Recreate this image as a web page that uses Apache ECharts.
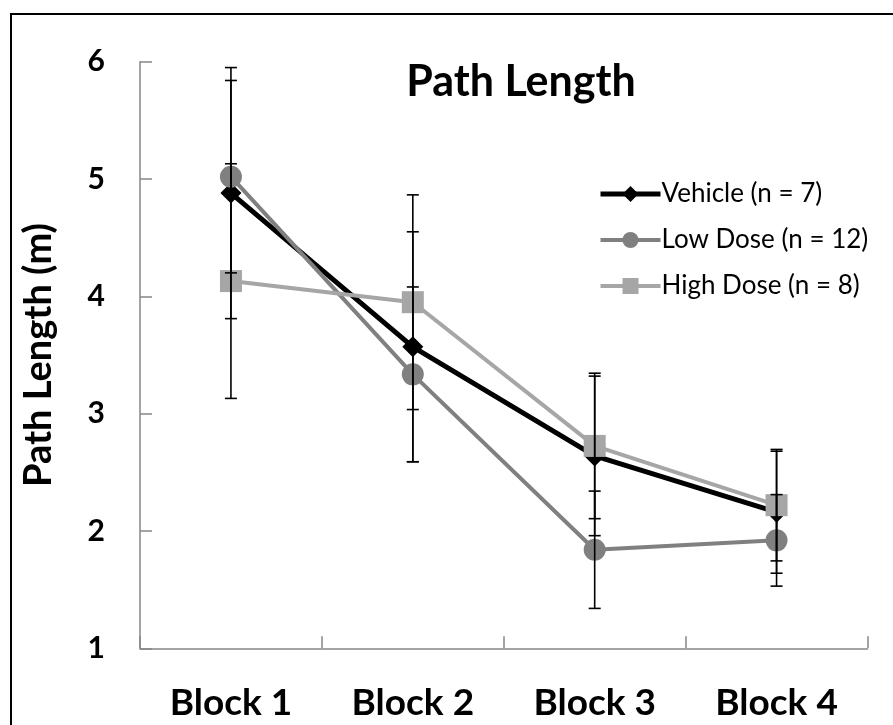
<!DOCTYPE html>
<html>
<head>
<meta charset="utf-8">
<script src="https://cdn.jsdelivr.net/npm/echarts@6/dist/echarts.min.js"></script>
<style>
  html, body { margin: 0; padding: 0; background: #fff; }
  #chart { width: 893px; height: 725px; }
</style>
</head>
<body>
<div id="chart"></div>
<script>
var categories = ["Block 1", "Block 2", "Block 3", "Block 4"];
var vehicle = [4.88, 3.57, 2.64, 2.16];
var vehicleErr = [1.07, 0.98, 0.68, 0.52];
var lowDose = [5.02, 3.335, 1.84, 1.92];
var lowDoseErr = [0.82, 0.745, 0.5, 0.39];
var highDose = [4.13, 3.95, 2.725, 2.22];
var highDoseErr = [1.0, 0.915, 0.62, 0.475];
var yTicks = [1, 2, 3, 4, 5, 6];

var myChart = echarts.init(document.getElementById("chart"));

function errData(vals, errs) {
  var out = [];
  for (let i = 0; i < vals.length; i++) {
    out.push([i, vals[i] - errs[i], vals[i] + errs[i]]);
  }
  return out;
}

function renderErr(params, api) {
  var x = api.value(0);
  var lo = api.coord([x, api.value(1)]);
  var hi = api.coord([x, api.value(2)]);
  var cap = 6;
  var style = { stroke: "#000", lineWidth: 1.6 };
  return {
    type: "group",
    children: [
      { type: "line", shape: { x1: hi[0], y1: hi[1], x2: lo[0], y2: lo[1] }, style: style },
      { type: "line", shape: { x1: hi[0] - cap, y1: hi[1], x2: hi[0] + cap, y2: hi[1] }, style: style },
      { type: "line", shape: { x1: lo[0] - cap, y1: lo[1], x2: lo[0] + cap, y2: lo[1] }, style: style }
    ]
  };
}

function lineSeries(name, data, color, width, symbol, size) {
  return {
    name: name,
    type: "line",
    data: data,
    symbol: symbol,
    symbolSize: size,
    lineStyle: { color: color, width: width },
    itemStyle: { color: color },
    z: 2
  };
}

function errSeries(vals, errs) {
  return {
    type: "custom",
    renderItem: renderErr,
    data: errData(vals, errs),
    encode: { x: 0, y: [1, 2] },
    z: 5,
    silent: true
  };
}

var option = {
  animation: false,
  backgroundColor: "#fff",
  title: {
    text: "Path Length",
    left: 516,
    top: 56,
    textAlign: "center",
    textStyle: { fontFamily: "Lato", fontWeight: "bold", fontSize: 43, color: "#000" }
  },
  graphic: [{
    type: "rect",
    shape: { x: 11, y: 14, width: 900, height: 740 },
    style: { fill: null, stroke: "#000", lineWidth: 2 },
    silent: true
  }],
  legend: {
    orient: "vertical",
    left: 593,
    top: 176,
    itemWidth: 60,
    itemHeight: 20,
    itemGap: 20,
    data: [
      { name: "Vehicle (n = 7)", lineStyle: { width: 5 } },
      { name: "Low Dose (n = 12)", lineStyle: { width: 4 } },
      { name: "High Dose (n = 8)", lineStyle: { width: 4 } }
    ],
    textStyle: { fontFamily: "Lato", fontSize: 26, color: "#000", padding: [0, 0, 0, -4] }
  },
  grid: {
    left: 140,
    right: 25.5,
    top: 61.7,
    bottom: 76.7
  },
  xAxis: {
    type: "category",
    data: categories,
    boundaryGap: true,
    axisLine: { show: true, lineStyle: { color: "#868686", width: 1.5 } },
    axisTick: { show: true, inside: true, length: 12, lineStyle: { color: "#868686", width: 1.5 } },
    axisLabel: { fontFamily: "Lato", fontWeight: "bold", fontSize: 37, color: "#000", margin: 36 },
    splitLine: { show: false }
  },
  yAxis: {
    type: "value",
    min: yTicks[0],
    max: yTicks[yTicks.length - 1],
    interval: 1,
    name: "Path Length (m)",
    nameLocation: "middle",
    nameGap: 82,
    nameTextStyle: { fontFamily: "Lato", fontWeight: "bold", fontSize: 38, color: "#000" },
    axisLine: { show: true, lineStyle: { color: "#868686", width: 1.5 } },
    axisTick: { show: true, inside: true, length: 12, lineStyle: { color: "#868686", width: 1.5 } },
    axisLabel: { fontFamily: "Lato", fontWeight: "bold", fontSize: 30, color: "#000", margin: 35 },
    splitLine: { show: false }
  },
  series: [
    lineSeries("Vehicle (n = 7)", vehicle, "#000000", 5, "diamond", 21),
    lineSeries("Low Dose (n = 12)", lowDose, "#808080", 4, "circle", 22),
    lineSeries("High Dose (n = 8)", highDose, "#A6A6A6", 4, "rect", 22),
    errSeries(vehicle, vehicleErr),
    errSeries(lowDose, lowDoseErr),
    errSeries(highDose, highDoseErr)
  ]
};

myChart.setOption(option, true);
</script>
</body>
</html>
